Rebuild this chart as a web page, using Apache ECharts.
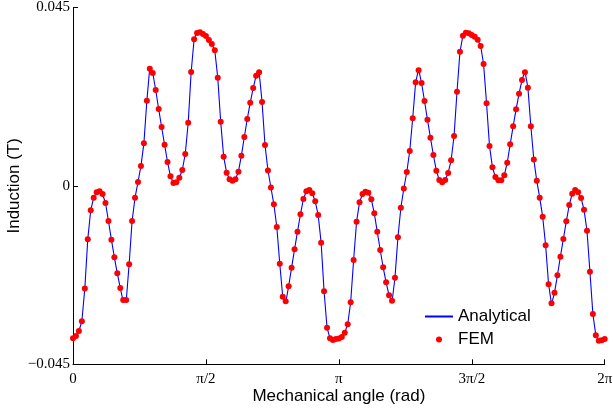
<!DOCTYPE html>
<html>
<head>
<meta charset="utf-8">
<script src="https://cdn.jsdelivr.net/npm/echarts@6/dist/echarts.min.js"></script>
<style>
  html, body { margin: 0; padding: 0; background: #ffffff; }
  #chart { width: 613px; height: 410px; }
</style>
</head>
<body>
<div id="chart"></div>
<script>
// Air-gap induction over one mechanical revolution, sampled every 2 degrees (0..360).
const ANGLE_STEP_DEG = 2;

// Finite-element results (T)
const FEM = [
  -0.03844, -0.03786, -0.03660, -0.03416, -0.02589, -0.01349, -0.00618, -0.00300, -0.00164, -0.00139,
  -0.00207, -0.00434, -0.00887, -0.01359, -0.01802, -0.02206, -0.02576, -0.02879, -0.02879, -0.01979,
  -0.00887, -0.00300, 0.00096, 0.00499, 0.01071, 0.02145, 0.02952, 0.02843, 0.02415, 0.01936,
  0.01482, 0.01036, 0.00600, 0.00239, 0.00071, 0.00088, 0.00204, 0.00398, 0.00802, 0.01591,
  0.02869, 0.03693, 0.03852, 0.03869, 0.03827, 0.03776, 0.03675, 0.03575, 0.03416, 0.02725,
  0.01616, 0.00734, 0.00330, 0.00164, 0.00129, 0.00164, 0.00355, 0.00759, 0.01230, 0.01684,
  0.02095, 0.02465, 0.02775, 0.02861, 0.02112, 0.01028, 0.00386, -0.00043, -0.00466, -0.01039,
  -0.01964, -0.02796, -0.02912, -0.02533, -0.02064, -0.01601, -0.01157, -0.00718, -0.00333, -0.00139,
  -0.00106, -0.00189, -0.00391, -0.00736, -0.01434, -0.02659, -0.03577, -0.03844, -0.03887, -0.03862,
  -0.03849, -0.03811, -0.03703, -0.03491, -0.02937, -0.01870, -0.00905, -0.00416, -0.00207, -0.00149,
  -0.00174, -0.00340, -0.00693, -0.01157, -0.01618, -0.02054, -0.02433, -0.02760, -0.02896, -0.02317,
  -0.01298, -0.00552, -0.00068, 0.00348, 0.00877, 0.01702, 0.02609, 0.02912, 0.02591, 0.02138,
  0.01666, 0.01213, 0.00776, 0.00381, 0.00146, 0.00088, 0.00146, 0.00323, 0.00643, 0.01255,
  0.02372, 0.03380, 0.03784, 0.03859, 0.03844, 0.03801, 0.03759, 0.03683, 0.03524, 0.03070,
  0.02080, 0.01003, 0.00466, 0.00222, 0.00139, 0.00139, 0.00265, 0.00582, 0.01046, 0.01500,
  0.01928, 0.02322, 0.02667, 0.02861, 0.02473, 0.01500, 0.00663, 0.00126, -0.00300, -0.00779,
  -0.01500, -0.02483, -0.02962, -0.02695, -0.02256, -0.01787, -0.01341, -0.00895, -0.00484, -0.00199,
  -0.00106, -0.00164, -0.00308, -0.00602, -0.01132, -0.02165, -0.03232, -0.03769, -0.03905, -0.03895,
  -0.03862
];

// Analytical model (T)
const ANALYTICAL = [
  -0.03870, -0.03786, -0.03660, -0.03416, -0.02589, -0.01349, -0.00618, -0.00300, -0.00164, -0.00139,
  -0.00207, -0.00434, -0.00887, -0.01359, -0.01802, -0.02206, -0.02576, -0.02920, -0.02920, -0.01979,
  -0.00887, -0.00300, 0.00096, 0.00499, 0.01071, 0.02145, 0.02985, 0.02843, 0.02415, 0.01936,
  0.01482, 0.01036, 0.00600, 0.00239, 0.00071, 0.00088, 0.00204, 0.00398, 0.00802, 0.01591,
  0.02869, 0.03693, 0.03870, 0.03890, 0.03827, 0.03776, 0.03675, 0.03575, 0.03416, 0.02725,
  0.01616, 0.00734, 0.00330, 0.00164, 0.00129, 0.00164, 0.00355, 0.00759, 0.01230, 0.01684,
  0.02095, 0.02465, 0.02775, 0.02880, 0.02112, 0.01028, 0.00386, -0.00043, -0.00466, -0.01039,
  -0.01964, -0.02796, -0.02950, -0.02533, -0.02064, -0.01601, -0.01157, -0.00718, -0.00333, -0.00139,
  -0.00106, -0.00189, -0.00391, -0.00736, -0.01434, -0.02659, -0.03577, -0.03844, -0.03905, -0.03862,
  -0.03849, -0.03811, -0.03703, -0.03491, -0.02937, -0.01870, -0.00905, -0.00416, -0.00207, -0.00149,
  -0.00174, -0.00340, -0.00693, -0.01157, -0.01618, -0.02054, -0.02433, -0.02760, -0.02930, -0.02317,
  -0.01298, -0.00552, -0.00068, 0.00348, 0.00877, 0.01702, 0.02609, 0.02940, 0.02591, 0.02138,
  0.01666, 0.01213, 0.00776, 0.00381, 0.00146, 0.00088, 0.00146, 0.00323, 0.00643, 0.01255,
  0.02372, 0.03380, 0.03784, 0.03880, 0.03844, 0.03801, 0.03759, 0.03683, 0.03524, 0.03070,
  0.02080, 0.01003, 0.00466, 0.00222, 0.00139, 0.00139, 0.00265, 0.00582, 0.01046, 0.01500,
  0.01928, 0.02322, 0.02667, 0.02890, 0.02473, 0.01500, 0.00663, 0.00126, -0.00300, -0.00779,
  -0.01500, -0.02483, -0.02990, -0.02695, -0.02256, -0.01787, -0.01341, -0.00895, -0.00484, -0.00199,
  -0.00106, -0.00164, -0.00308, -0.00602, -0.01132, -0.02165, -0.03232, -0.03769, -0.03925, -0.03895,
  -0.03862
];

// Axis ticks and their labels
const X_TICKS = [0, 90, 180, 270, 360];
const X_TICK_LABELS = ['0', 'π/2', 'π', '3π/2', '2π'];
const Y_TICKS = [-0.045, 0, 0.045];
const Y_TICK_LABELS = ['\u22120.045', '0', '0.045'];

function nearestLabel(ticks, labels, v) {
  let best = 0;
  for (let i = 1; i < ticks.length; i++) {
    if (Math.abs(ticks[i] - v) < Math.abs(ticks[best] - v)) best = i;
  }
  return labels[best];
}

const toPairs = arr => arr.map((v, i) => [i * ANGLE_STEP_DEG, v]);

const TICK_FONT = 'Liberation Serif';
const TEXT_FONT = 'Liberation Sans';

const chart = echarts.init(document.getElementById('chart'), null, { renderer: 'canvas' });

chart.setOption({
  animation: false,
  backgroundColor: '#ffffff',
  grid: { left: 73, right: 8.3, top: 7.3, bottom: 45.7, containLabel: false, outerBoundsMode: 'none' },
  xAxis: {
    type: 'value',
    min: 0,
    max: 360,
    interval: 90,
    name: 'Mechanical angle (rad)',
    nameLocation: 'middle',
    nameGap: 23.5,
    nameMoveOverlap: false,
    nameTextStyle: { fontFamily: TEXT_FONT, fontSize: 17, color: '#000' },
    axisLine: { onZero: false, lineStyle: { color: '#000', width: 1 } },
    axisTick: { inside: true, length: 5, lineStyle: { color: '#000', width: 1 } },
    axisLabel: {
      margin: 7,
      fontFamily: TICK_FONT,
      fontSize: 15,
      color: '#000',
      formatter: v => nearestLabel(X_TICKS, X_TICK_LABELS, v)
    },
    splitLine: { show: false }
  },
  yAxis: {
    type: 'value',
    min: -0.045,
    max: 0.045,
    interval: 0.045,
    name: 'Induction (T)',
    nameLocation: 'middle',
    nameGap: 50,
    nameMoveOverlap: false,
    nameTextStyle: { fontFamily: TEXT_FONT, fontSize: 17, color: '#000' },
    axisLine: { onZero: false, lineStyle: { color: '#000', width: 1 } },
    axisTick: { inside: true, length: 5, lineStyle: { color: '#000', width: 1 } },
    axisLabel: {
      margin: 3,
      fontFamily: TICK_FONT,
      fontSize: 15,
      color: '#000',
      formatter: v => nearestLabel(Y_TICKS, Y_TICK_LABELS, v)
    },
    splitLine: { show: false }
  },
  legend: {
    orient: 'vertical',
    left: 424,
    top: 308,
    padding: 0,
    itemWidth: 28,
    itemHeight: 6,
    itemGap: 6,
    textStyle: { fontFamily: TEXT_FONT, fontSize: 17, color: '#000' },
    data: [
      { name: 'Analytical', itemStyle: { opacity: 0 } },
      { name: 'FEM', icon: 'circle' }
    ]
  },
  series: [
    {
      name: 'Analytical',
      type: 'line',
      data: toPairs(ANALYTICAL),
      symbol: 'none',
      smooth: false,
      lineStyle: { color: '#0000ff', width: 1.1 },
      itemStyle: { color: '#0000ff' },
      z: 2
    },
    {
      name: 'FEM',
      type: 'scatter',
      data: toPairs(FEM),
      symbol: 'circle',
      symbolSize: 6,
      clip: false,
      itemStyle: { color: '#ff0000', opacity: 1 },
      z: 3
    }
  ]
});
</script>
</body>
</html>
